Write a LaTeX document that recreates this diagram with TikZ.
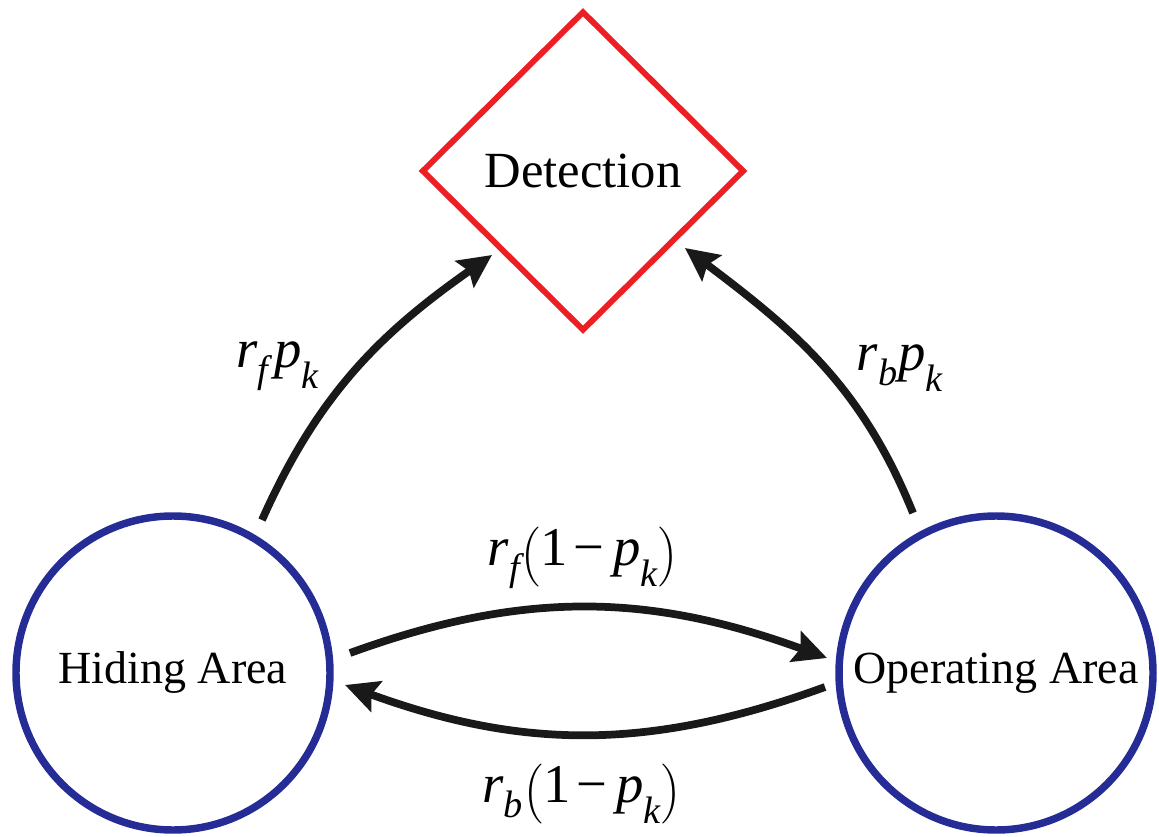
\documentclass[tikz,border=0pt]{standalone}
\usepackage{amsmath}
\usepackage{fontspec}
\setmainfont{Liberation Serif}
\usetikzlibrary{shapes.geometric,arrows.meta,calc}
\definecolor{cblue}{RGB}{38,44,150}
\definecolor{cred}{RGB}{236,32,36}
\definecolor{cblack}{RGB}{25,25,25}
\newcommand{\mi}[1]{\textit{#1}}
\newcommand{\lo}[1]{_{\raisebox{-0.15em}{$\scriptstyle\mi{#1}$}}}
\begin{document}
\begin{tikzpicture}[x=0.75pt,y=0.75pt,
  statenode/.style={circle,draw=cblue,line width=5.6pt,minimum size=235.5pt,inner sep=0pt,
    font=\fontsize{34.5}{40}\selectfont},
  detnode/.style={diamond,draw=cred,line width=4.4pt,minimum width=242pt,minimum height=240pt,
    inner sep=0pt,font=\fontsize{38}{44}\selectfont},
  flow/.style={draw=cblack,line width=5.8pt,-{Stealth[length=25pt,width=24pt,inset=4pt]}},
  rate/.style={font=\fontsize{41}{48}\selectfont,inner sep=0pt}]
\useasboundingbox (0,0) rectangle (1159,836);

\node[detnode] (det) at (583,665) {Detection};
\node[statenode] (hide) at (173,163) {Hiding Area};
\node[statenode] (op) at (996,163) {Operating Area};

\draw[flow] ($(hide.center)+(89,153)$) to[out=66,in=215] ($(det.center)+(-91,-84)$);
\draw[flow] ($(op.center)+(-83,160)$) to[out=112,in=-37] ($(det.center)+(102,-77)$);
\draw[flow] ($(hide.center)+(177,20)$) to[out=20,in=160] ($(op.center)+(-169,15)$);
\draw[flow] ($(op.center)+(-171,-14)$) to[out=200,in=-20] ($(hide.center)+(172,-12)$);

\node[rate] (l1) at (278,470) {$\mi{r}\lo{f}\,\mi{p}\lo{k}$};
\node[rate] (l2) at (900,468) {$\mi{r}\lo{b}\mi{p}\lo{k}$};
\node[rate] (l3) at (583,278) {$\mi{r}\lo{f}\Bigl(\text{1}\,\text{−}\;\mi{p}\lo{k}\Bigr)$};
\node[rate] (l4) at (582,42) {$\mi{r}\lo{b}\Bigl(\text{1}\,\text{−}\;\mi{p}\lo{k}\Bigr)$};
\end{tikzpicture}
\end{document}
